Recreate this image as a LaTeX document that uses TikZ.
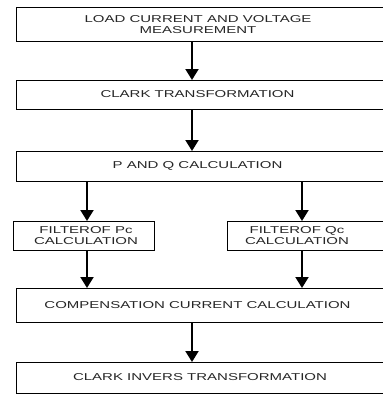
\documentclass[tikz,border=0pt]{standalone}
\usepackage{fontspec}
\setmainfont{Liberation Sans}[FakeStretch=1.5]
\usetikzlibrary{arrows.meta}
\begin{document}
\begin{tikzpicture}[x=1pt,y=1pt,
  box/.style={draw=black, line width=1.3pt, rectangle, inner sep=0pt, anchor=north west},
  txt/.style={font=\fontsize{10}{11.7}\selectfont, align=center, inner sep=0pt, text=black!85},
  flow/.style={line width=2pt, -{Triangle[width=13pt,length=11pt]}}]
\useasboundingbox (0,0) rectangle (383,-394);
\clip (0,0) rectangle (383,-394);
% boxes
\node[box, minimum width=375pt, minimum height=34pt] (b1) at (15.5,-7) {};
\node[box, minimum width=375pt, minimum height=29pt] (b2) at (15.5,-80) {};
\node[box, minimum width=375pt, minimum height=30pt] (b3) at (15.5,-151) {};
\node[box, minimum width=141.5pt, minimum height=29pt] (b4) at (12.5,-221) {};
\node[box, minimum width=163pt, minimum height=29pt] (b5) at (227,-221) {};
\node[box, minimum width=375pt, minimum height=34pt] (b6) at (15.5,-288) {};
\node[box, minimum width=375pt, minimum height=31pt] (b7) at (15.5,-362) {};
% texts
\node[txt] (t1) at (198,-24.5) {LOAD CURRENT AND VOLTAGE\\MEASUREMENT};
\node[txt] (t2) at (197.5,-94.5) {CLARK TRANSFORMATION};
\node[txt] (t3) at (197.5,-166) {P AND Q CALCULATION};
\node[txt] (t4) at (86,-235.5) {FILTEROF Pc\\CALCULATION};
\node[txt] (t5) at (297,-235.5) {FILTEROF Qc\\CALCULATION};
\node[txt] (t6) at (197.5,-305) {COMPENSATION CURRENT CALCULATION};
\node[txt] (t7) at (200,-377.5) {CLARK INVERS TRANSFORMATION};
% arrows
\draw[flow] (b1.south -| 192,0) -- (b2.north -| 192,0);
\draw[flow] (b2.south -| 192,0) -- (b3.north -| 192,0);
\draw[flow] (b3.south -| 87,0) -- (b4.north -| 87,0);
\draw[flow] (b3.south -| 302,0) -- (b5.north -| 302,0);
\draw[flow] (b4.south -| 87,0) -- (b6.north -| 87,0);
\draw[flow] (b5.south -| 302,0) -- (b6.north -| 302,0);
\draw[flow] (b6.south -| 192,0) -- (b7.north -| 192,0);
\end{tikzpicture}
\end{document}
